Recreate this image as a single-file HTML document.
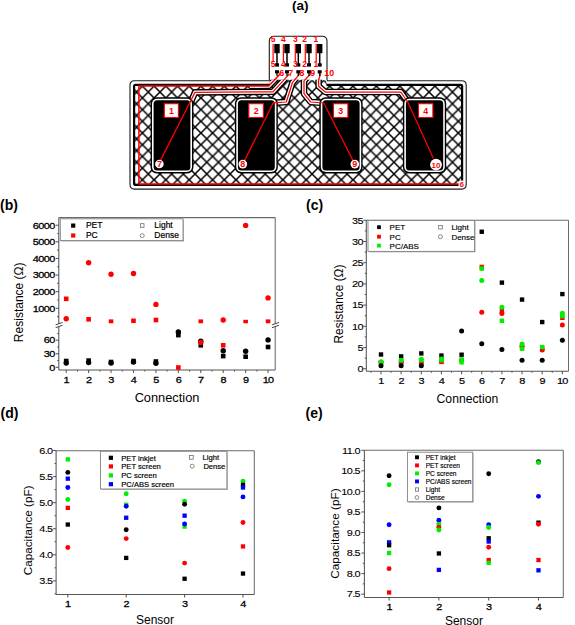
<!DOCTYPE html>
<html><head><meta charset="utf-8"><title>Figure</title>
<style>html,body{margin:0;padding:0;background:#fff;width:575px;height:625px;overflow:hidden}
svg{display:block} text{font-family:"Liberation Sans", sans-serif}</style></head>
<body><svg width="575" height="625" viewBox="0 0 575 625" font-family="Liberation Sans, sans-serif">
<rect width="575" height="625" fill="#fff"/>
<text x="300.20" y="10.40" font-size="13.5" text-anchor="middle" fill="#000" font-weight="bold" >(a)</text>
<path d="M134.5,80.8 L269.3,80.8 L269.3,41.3 Q269.3,36.3 274.3,36.3 L322.0,36.3 Q327.0,36.3 327.0,41.3 L327.0,80.8 L461.7,80.8 Q466.2,80.8 466.2,85.3 L466.2,184.6 Q466.2,189.1 461.7,189.1 L134.5,189.1 Q130.0,189.1 130.0,184.6 L130.0,85.3 Q130.0,80.8 134.5,80.8 Z" fill="#fff" stroke="#1a1a1a" stroke-width="1.1"/>
<rect x="269.90000000000003" y="79.8" width="56.499999999999986" height="3" fill="#fff"/>
<rect x="133.0" y="83.8" width="330.2" height="102.3" rx="2.5" fill="#000"/>
<defs><pattern id="hatch" patternUnits="userSpaceOnUse" width="11.7" height="11.7" x="2.0" y="4.3"><rect width="11.7" height="11.7" fill="#fff"/><path d="M-1,-1 L12.7,12.7 M-1,12.7 L12.7,-1" stroke="#000" stroke-width="1.55"/></pattern><clipPath id="board"><rect x="135.2" y="86.0" width="325.8" height="97.89999999999999"/><rect x="269.8" y="79.8" width="56.69999999999999" height="8"/></clipPath></defs>
<rect x="135.2" y="86.0" width="325.8" height="97.89999999999999" fill="url(#hatch)"/>
<rect x="269.90000000000003" y="80.3" width="56.499999999999986" height="5.7" fill="url(#hatch)"/>
<g clip-path="url(#board)">
<polyline points="280.3,73.8 268.7,85.9 250.0,86.0" fill="none" stroke="#000" stroke-width="6.6" stroke-linejoin="round"/>
<polyline points="289.4,73.8 273.0,91.8 195.0,92.4 190.0,104.0" fill="none" stroke="#000" stroke-width="6.6" stroke-linejoin="round"/>
<polyline points="299.7,73.8 292.4,82.7 286.3,102.0 273.2,102.9 265.0,117.0" fill="none" stroke="#000" stroke-width="6.6" stroke-linejoin="round"/>
<polyline points="310.7,73.8 304.0,80.9 304.0,93.7 310.7,102.0 323.8,103.0 331.0,117.0" fill="none" stroke="#000" stroke-width="6.6" stroke-linejoin="round"/>
<polyline points="320.5,73.8 318.6,80.3 318.6,86.3 325.3,92.0 400.8,92.0 407.8,102.0 413.0,113.0" fill="none" stroke="#000" stroke-width="6.6" stroke-linejoin="round"/>
<polyline points="280.3,73.8 268.7,85.9 250.0,86.0" fill="none" stroke="#fff" stroke-width="3.8" stroke-linejoin="round"/>
<polyline points="289.4,73.8 273.0,91.8 195.0,92.4 190.0,104.0" fill="none" stroke="#fff" stroke-width="3.8" stroke-linejoin="round"/>
<polyline points="299.7,73.8 292.4,82.7 286.3,102.0 273.2,102.9 265.0,117.0" fill="none" stroke="#fff" stroke-width="3.8" stroke-linejoin="round"/>
<polyline points="310.7,73.8 304.0,80.9 304.0,93.7 310.7,102.0 323.8,103.0 331.0,117.0" fill="none" stroke="#fff" stroke-width="3.8" stroke-linejoin="round"/>
<polyline points="320.5,73.8 318.6,80.3 318.6,86.3 325.3,92.0 400.8,92.0 407.8,102.0 413.0,113.0" fill="none" stroke="#fff" stroke-width="3.8" stroke-linejoin="round"/>
</g>
<rect x="150.6" y="97.3" width="42.80000000000001" height="76.10000000000001" rx="6" fill="#000"/>
<rect x="152.0" y="98.7" width="40.000000000000014" height="73.30000000000001" rx="5" fill="#fff"/>
<rect x="153.6" y="100.3" width="36.80000000000001" height="70.10000000000001" rx="3.5" fill="#000"/>
<rect x="234.9" y="97.3" width="42.900000000000006" height="76.10000000000001" rx="6" fill="#000"/>
<rect x="236.3" y="98.7" width="40.10000000000001" height="73.30000000000001" rx="5" fill="#fff"/>
<rect x="237.9" y="100.3" width="36.900000000000006" height="70.10000000000001" rx="3.5" fill="#000"/>
<rect x="319.4" y="97.3" width="43.200000000000045" height="76.10000000000001" rx="6" fill="#000"/>
<rect x="320.79999999999995" y="98.7" width="40.40000000000005" height="73.30000000000001" rx="5" fill="#fff"/>
<rect x="322.4" y="100.3" width="37.200000000000045" height="70.10000000000001" rx="3.5" fill="#000"/>
<rect x="402.9" y="97.3" width="43.30000000000001" height="76.10000000000001" rx="6" fill="#000"/>
<rect x="404.29999999999995" y="98.7" width="40.500000000000014" height="73.30000000000001" rx="5" fill="#fff"/>
<rect x="405.9" y="100.3" width="37.30000000000001" height="70.10000000000001" rx="3.5" fill="#000"/>
<polyline points="280.3,73.8 268.7,85.9 138.9,86.0 138.9,184.0 460.0,184.0" fill="none" stroke="#ff0000" stroke-width="1.5" stroke-linejoin="round"/>
<polyline points="289.4,73.8 273.0,91.8 195.0,92.4 158.6,164.1" fill="none" stroke="#ff0000" stroke-width="1.25" stroke-linejoin="round"/>
<polyline points="299.7,73.8 292.4,82.7 286.3,102.0 273.2,102.9 242.8,164.1" fill="none" stroke="#ff0000" stroke-width="1.25" stroke-linejoin="round"/>
<polyline points="310.7,73.8 304.0,80.9 304.0,93.7 310.7,102.0 323.8,103.0 354.8,164.1" fill="none" stroke="#ff0000" stroke-width="1.25" stroke-linejoin="round"/>
<polyline points="320.5,73.8 318.6,80.3 318.6,86.3 325.3,92.0 400.8,92.0 407.8,102.0 433.4,158.5" fill="none" stroke="#ff0000" stroke-width="1.25" stroke-linejoin="round"/>
<rect x="164.3" y="103.7" width="14.099999999999994" height="13.8" fill="#fff" stroke="#ff0000" stroke-width="1.1"/>
<text x="171.35" y="113.90" font-size="8.8" text-anchor="middle" fill="#ff0000" font-weight="bold" >1</text>
<rect x="248.8" y="103.7" width="14.599999999999966" height="13.8" fill="#fff" stroke="#ff0000" stroke-width="1.1"/>
<text x="256.10" y="113.90" font-size="8.8" text-anchor="middle" fill="#ff0000" font-weight="bold" >2</text>
<rect x="333.5" y="103.7" width="14.399999999999977" height="13.8" fill="#fff" stroke="#ff0000" stroke-width="1.1"/>
<text x="340.70" y="113.90" font-size="8.8" text-anchor="middle" fill="#ff0000" font-weight="bold" >3</text>
<rect x="418.5" y="103.7" width="14.399999999999977" height="13.8" fill="#fff" stroke="#ff0000" stroke-width="1.1"/>
<text x="425.70" y="113.90" font-size="8.8" text-anchor="middle" fill="#ff0000" font-weight="bold" >4</text>
<circle cx="159.4" cy="164.0" r="4.3" fill="#fff"/>
<text x="159.40" y="167.20" font-size="9" text-anchor="middle" fill="#ff0000" font-weight="bold" >7</text>
<circle cx="242.8" cy="164.1" r="4.3" fill="#fff"/>
<text x="242.80" y="167.30" font-size="9" text-anchor="middle" fill="#ff0000" font-weight="bold" >8</text>
<circle cx="354.8" cy="164.1" r="4.3" fill="#fff"/>
<text x="354.80" y="167.30" font-size="9" text-anchor="middle" fill="#ff0000" font-weight="bold" >9</text>
<circle cx="436.0" cy="164.6" r="5.9" fill="#fff"/>
<text x="436.00" y="167.80" font-size="8" text-anchor="middle" fill="#ff0000" font-weight="bold" >10</text>
<rect x="458.6" y="180.4" width="6.2" height="7.2" rx="1.5" fill="#fff"/>
<text x="461.80" y="186.60" font-size="7.5" text-anchor="middle" fill="#ff0000" font-weight="bold" >6</text>
<rect x="274.3" y="44.0" width="5.4" height="9.2" fill="#000"/>
<rect x="276.25" y="52" width="1.5" height="12" fill="#000"/>
<rect x="275.0" y="63.3" width="4.0" height="3.3" fill="#000"/>
<rect x="275.0" y="70.2" width="4.0" height="3.2" fill="#000"/>
<rect x="276.4" y="73" width="1.2" height="3" fill="#000"/>
<rect x="284.3" y="44.0" width="5.4" height="9.2" fill="#000"/>
<rect x="286.25" y="52" width="1.5" height="12" fill="#000"/>
<rect x="285.0" y="63.3" width="4.0" height="3.3" fill="#000"/>
<rect x="285.0" y="70.2" width="4.0" height="3.2" fill="#000"/>
<rect x="286.4" y="73" width="1.2" height="3" fill="#000"/>
<rect x="295.6" y="44.0" width="5.4" height="9.2" fill="#000"/>
<rect x="297.55" y="52" width="1.5" height="12" fill="#000"/>
<rect x="296.3" y="63.3" width="4.0" height="3.3" fill="#000"/>
<rect x="296.3" y="70.2" width="4.0" height="3.2" fill="#000"/>
<rect x="297.7" y="73" width="1.2" height="3" fill="#000"/>
<rect x="306.3" y="44.0" width="5.4" height="9.2" fill="#000"/>
<rect x="308.25" y="52" width="1.5" height="12" fill="#000"/>
<rect x="307.0" y="63.3" width="4.0" height="3.3" fill="#000"/>
<rect x="307.0" y="70.2" width="4.0" height="3.2" fill="#000"/>
<rect x="308.4" y="73" width="1.2" height="3" fill="#000"/>
<rect x="317.0" y="44.0" width="5.4" height="9.2" fill="#000"/>
<rect x="318.95" y="52" width="1.5" height="12" fill="#000"/>
<rect x="317.7" y="63.3" width="4.0" height="3.3" fill="#000"/>
<rect x="317.7" y="70.2" width="4.0" height="3.2" fill="#000"/>
<rect x="319.09999999999997" y="73" width="1.2" height="3" fill="#000"/>
<rect x="272.5" y="44" width="1.2" height="18" fill="#ff0000"/>
<rect x="282.79999999999995" y="44" width="1.2" height="18" fill="#ff0000"/>
<rect x="294.7" y="44" width="1.2" height="18" fill="#ff0000"/>
<rect x="304.7" y="44" width="1.2" height="18" fill="#ff0000"/>
<rect x="315.59999999999997" y="44" width="1.2" height="18" fill="#ff0000"/>
<text x="273.00" y="41.80" font-size="8.5" text-anchor="middle" fill="#ff0000" font-weight="bold" >5</text>
<text x="273.00" y="66.80" font-size="8.5" text-anchor="middle" fill="#ff0000" font-weight="bold" >5</text>
<text x="283.40" y="41.80" font-size="8.5" text-anchor="middle" fill="#ff0000" font-weight="bold" >4</text>
<text x="283.40" y="66.80" font-size="8.5" text-anchor="middle" fill="#ff0000" font-weight="bold" >4</text>
<text x="295.30" y="41.80" font-size="8.5" text-anchor="middle" fill="#ff0000" font-weight="bold" >3</text>
<text x="295.30" y="66.80" font-size="8.5" text-anchor="middle" fill="#ff0000" font-weight="bold" >3</text>
<text x="304.70" y="41.80" font-size="8.5" text-anchor="middle" fill="#ff0000" font-weight="bold" >2</text>
<text x="304.70" y="66.80" font-size="8.5" text-anchor="middle" fill="#ff0000" font-weight="bold" >2</text>
<text x="315.80" y="41.80" font-size="8.5" text-anchor="middle" fill="#ff0000" font-weight="bold" >1</text>
<text x="315.80" y="66.80" font-size="8.5" text-anchor="middle" fill="#ff0000" font-weight="bold" >1</text>
<text x="281.60" y="76.00" font-size="8.8" text-anchor="middle" fill="#ff0000" font-weight="bold" >6</text>
<text x="290.60" y="76.00" font-size="8.8" text-anchor="middle" fill="#ff0000" font-weight="bold" >7</text>
<text x="302.00" y="76.00" font-size="8.8" text-anchor="middle" fill="#ff0000" font-weight="bold" >8</text>
<text x="312.80" y="76.00" font-size="8.8" text-anchor="middle" fill="#ff0000" font-weight="bold" >9</text>
<text x="329.20" y="76.00" font-size="8.8" text-anchor="middle" fill="#ff0000" font-weight="bold" >10</text>
<text x="0.00" y="210.30" font-size="14" text-anchor="start" fill="#000" font-weight="bold" >(b)</text>
<g stroke="#555" stroke-width="1.05" fill="none">
<line x1="58.8" y1="217.6" x2="275.2" y2="217.6" stroke="#6a6a6a"/>
<line x1="275.2" y1="217.6" x2="275.2" y2="369.9" stroke="#6a6a6a"/>
<line x1="58.8" y1="217.6" x2="58.8" y2="369.9"/>
<line x1="58.8" y1="369.9" x2="275.2" y2="369.9"/>
<line x1="55.8" y1="308.30" x2="58.8" y2="308.30"/>
<line x1="55.8" y1="291.68" x2="58.8" y2="291.68"/>
<line x1="55.8" y1="275.06" x2="58.8" y2="275.06"/>
<line x1="55.8" y1="258.44" x2="58.8" y2="258.44"/>
<line x1="55.8" y1="241.82" x2="58.8" y2="241.82"/>
<line x1="55.8" y1="225.20" x2="58.8" y2="225.20"/>
<line x1="57.199999999999996" y1="316.61" x2="58.8" y2="316.61"/>
<line x1="57.199999999999996" y1="299.99" x2="58.8" y2="299.99"/>
<line x1="57.199999999999996" y1="283.37" x2="58.8" y2="283.37"/>
<line x1="57.199999999999996" y1="266.75" x2="58.8" y2="266.75"/>
<line x1="57.199999999999996" y1="250.13" x2="58.8" y2="250.13"/>
<line x1="57.199999999999996" y1="233.51" x2="58.8" y2="233.51"/>
<line x1="55.8" y1="367.30" x2="58.8" y2="367.30"/>
<line x1="55.8" y1="353.74" x2="58.8" y2="353.74"/>
<line x1="55.8" y1="340.18" x2="58.8" y2="340.18"/>
<line x1="57.199999999999996" y1="360.52" x2="58.8" y2="360.52"/>
<line x1="57.199999999999996" y1="346.96" x2="58.8" y2="346.96"/>
<line x1="57.199999999999996" y1="333.40" x2="58.8" y2="333.40"/>
<line x1="66.20" y1="369.9" x2="66.20" y2="372.9"/>
<line x1="88.63" y1="369.9" x2="88.63" y2="372.9"/>
<line x1="111.06" y1="369.9" x2="111.06" y2="372.9"/>
<line x1="133.49" y1="369.9" x2="133.49" y2="372.9"/>
<line x1="155.92" y1="369.9" x2="155.92" y2="372.9"/>
<line x1="178.35" y1="369.9" x2="178.35" y2="372.9"/>
<line x1="200.78" y1="369.9" x2="200.78" y2="372.9"/>
<line x1="223.21" y1="369.9" x2="223.21" y2="372.9"/>
<line x1="245.64" y1="369.9" x2="245.64" y2="372.9"/>
<line x1="268.07" y1="369.9" x2="268.07" y2="372.9"/>
<line x1="77.43" y1="369.9" x2="77.43" y2="371.5"/>
<line x1="99.86" y1="369.9" x2="99.86" y2="371.5"/>
<line x1="122.29" y1="369.9" x2="122.29" y2="371.5"/>
<line x1="144.72" y1="369.9" x2="144.72" y2="371.5"/>
<line x1="167.15" y1="369.9" x2="167.15" y2="371.5"/>
<line x1="189.58" y1="369.9" x2="189.58" y2="371.5"/>
<line x1="212.01" y1="369.9" x2="212.01" y2="371.5"/>
<line x1="234.44" y1="369.9" x2="234.44" y2="371.5"/>
<line x1="256.87" y1="369.9" x2="256.87" y2="371.5"/>
</g>
<path d="M55.599999999999994,324.9 L62.599999999999994,322.4 L62.599999999999994,325.2 L55.599999999999994,327.7 Z" fill="#fff"/>
<path d="M55.599999999999994,324.9 L62.599999999999994,322.4 M55.599999999999994,327.7 L62.599999999999994,325.2" stroke="#333" stroke-width="0.9"/>
<path d="M272.0,324.9 L279.0,322.4 L279.0,325.2 L272.0,327.7 Z" fill="#fff"/>
<path d="M272.0,324.9 L279.0,322.4 M272.0,327.7 L279.0,325.2" stroke="#333" stroke-width="0.9"/>
<text transform="translate(54.60,311.60) scale(1.1,1)" font-size="9.9" text-anchor="end" letter-spacing="-0.55" fill="#000" stroke="#000" stroke-width="0.3">1000</text>
<text transform="translate(54.60,294.98) scale(1.1,1)" font-size="9.9" text-anchor="end" letter-spacing="-0.55" fill="#000" stroke="#000" stroke-width="0.3">2000</text>
<text transform="translate(54.60,278.36) scale(1.1,1)" font-size="9.9" text-anchor="end" letter-spacing="-0.55" fill="#000" stroke="#000" stroke-width="0.3">3000</text>
<text transform="translate(54.60,261.74) scale(1.1,1)" font-size="9.9" text-anchor="end" letter-spacing="-0.55" fill="#000" stroke="#000" stroke-width="0.3">4000</text>
<text transform="translate(54.60,245.12) scale(1.1,1)" font-size="9.9" text-anchor="end" letter-spacing="-0.55" fill="#000" stroke="#000" stroke-width="0.3">5000</text>
<text transform="translate(54.60,228.50) scale(1.1,1)" font-size="9.9" text-anchor="end" letter-spacing="-0.55" fill="#000" stroke="#000" stroke-width="0.3">6000</text>
<text transform="translate(54.60,370.60) scale(1.1,1)" font-size="9.9" text-anchor="end" letter-spacing="-0.55" fill="#000" stroke="#000" stroke-width="0.3">0</text>
<text transform="translate(54.60,357.04) scale(1.1,1)" font-size="9.9" text-anchor="end" letter-spacing="-0.55" fill="#000" stroke="#000" stroke-width="0.3">30</text>
<text transform="translate(54.60,343.48) scale(1.1,1)" font-size="9.9" text-anchor="end" letter-spacing="-0.55" fill="#000" stroke="#000" stroke-width="0.3">60</text>
<text transform="translate(66.20,383.20) scale(1.1,1)" font-size="9.9" text-anchor="middle" letter-spacing="-0.55" fill="#000" stroke="#000" stroke-width="0.3">1</text>
<text transform="translate(88.63,383.20) scale(1.1,1)" font-size="9.9" text-anchor="middle" letter-spacing="-0.55" fill="#000" stroke="#000" stroke-width="0.3">2</text>
<text transform="translate(111.06,383.20) scale(1.1,1)" font-size="9.9" text-anchor="middle" letter-spacing="-0.55" fill="#000" stroke="#000" stroke-width="0.3">3</text>
<text transform="translate(133.49,383.20) scale(1.1,1)" font-size="9.9" text-anchor="middle" letter-spacing="-0.55" fill="#000" stroke="#000" stroke-width="0.3">4</text>
<text transform="translate(155.92,383.20) scale(1.1,1)" font-size="9.9" text-anchor="middle" letter-spacing="-0.55" fill="#000" stroke="#000" stroke-width="0.3">5</text>
<text transform="translate(178.35,383.20) scale(1.1,1)" font-size="9.9" text-anchor="middle" letter-spacing="-0.55" fill="#000" stroke="#000" stroke-width="0.3">6</text>
<text transform="translate(200.78,383.20) scale(1.1,1)" font-size="9.9" text-anchor="middle" letter-spacing="-0.55" fill="#000" stroke="#000" stroke-width="0.3">7</text>
<text transform="translate(223.21,383.20) scale(1.1,1)" font-size="9.9" text-anchor="middle" letter-spacing="-0.55" fill="#000" stroke="#000" stroke-width="0.3">8</text>
<text transform="translate(245.64,383.20) scale(1.1,1)" font-size="9.9" text-anchor="middle" letter-spacing="-0.55" fill="#000" stroke="#000" stroke-width="0.3">9</text>
<text transform="translate(268.07,383.20) scale(1.1,1)" font-size="9.9" text-anchor="middle" letter-spacing="-0.55" fill="#000" stroke="#000" stroke-width="0.3">10</text>
<text x="167.00" y="401.80" font-size="12.8" text-anchor="middle" fill="#000" font-weight="normal" >Connection</text>
<text transform="translate(22.8,302.3) rotate(-90)" font-size="12" text-anchor="middle">Resistance (Ω)</text>
<rect x="61.3" y="219.8" width="122.7" height="21.799999999999983" fill="#bbb"/>
<rect x="60.3" y="218.8" width="122.7" height="21.799999999999983" fill="#fff" stroke="#808080" stroke-width="0.9"/>
<rect x="71.10" y="223.50" width="4.2" height="4.2" fill="#000000"/>
<rect x="71.10" y="233.40" width="4.2" height="4.2" fill="#ff0000"/>
<text x="85.90" y="228.00" font-size="8.5" text-anchor="start" fill="#000" font-weight="normal" stroke="#000" stroke-width="0.2">PET</text>
<text x="85.90" y="238.00" font-size="8.5" text-anchor="start" fill="#000" font-weight="normal" stroke="#000" stroke-width="0.2">PC</text>
<rect x="140.39999999999998" y="223.7" width="3.6" height="3.6" fill="none" stroke="#666" stroke-width="0.75"/>
<circle cx="142.2" cy="235.6" r="2.0" fill="none" stroke="#666" stroke-width="0.75"/>
<text x="154.30" y="228.00" font-size="8.5" text-anchor="start" fill="#000" font-weight="normal" stroke="#000" stroke-width="0.2">Light</text>
<text x="154.30" y="238.00" font-size="8.5" text-anchor="start" fill="#000" font-weight="normal" stroke="#000" stroke-width="0.2">Dense</text>
<defs><clipPath id="bup"><rect x="55" y="210" width="230" height="113.3"/></clipPath></defs>
<g clip-path="url(#bup)">
<rect x="63.90" y="296.50" width="4.6" height="4.6" fill="#ff0000"/>
<circle cx="66.20" cy="318.70" r="2.7" fill="#ff0000"/>
<circle cx="88.63" cy="262.70" r="2.7" fill="#ff0000"/>
<rect x="86.33" y="317.00" width="4.6" height="4.6" fill="#ff0000"/>
<circle cx="111.06" cy="274.20" r="2.7" fill="#ff0000"/>
<rect x="108.76" y="319.40" width="4.6" height="4.6" fill="#ff0000"/>
<circle cx="133.49" cy="273.50" r="2.7" fill="#ff0000"/>
<rect x="131.19" y="318.50" width="4.6" height="4.6" fill="#ff0000"/>
<circle cx="155.92" cy="304.40" r="2.7" fill="#ff0000"/>
<rect x="153.62" y="317.70" width="4.6" height="4.6" fill="#ff0000"/>
<rect x="198.48" y="319.40" width="4.6" height="4.6" fill="#ff0000"/>
<circle cx="223.21" cy="320.00" r="2.7" fill="#ff0000"/>
<circle cx="245.64" cy="225.40" r="2.7" fill="#ff0000"/>
<rect x="243.34" y="319.80" width="4.6" height="4.6" fill="#ff0000"/>
<circle cx="268.07" cy="297.90" r="2.7" fill="#ff0000"/>
<rect x="265.77" y="319.40" width="4.6" height="4.6" fill="#ff0000"/>
</g>
<rect x="63.90" y="358.70" width="4.6" height="4.6" fill="#000000"/>
<circle cx="66.20" cy="363.00" r="2.7" fill="#000000"/>
<rect x="86.33" y="358.30" width="4.6" height="4.6" fill="#000000"/>
<circle cx="88.63" cy="362.60" r="2.7" fill="#000000"/>
<rect x="108.76" y="359.70" width="4.6" height="4.6" fill="#000000"/>
<circle cx="111.06" cy="363.00" r="2.7" fill="#000000"/>
<rect x="131.19" y="358.70" width="4.6" height="4.6" fill="#000000"/>
<circle cx="133.49" cy="362.00" r="2.7" fill="#000000"/>
<rect x="153.62" y="359.20" width="4.6" height="4.6" fill="#000000"/>
<circle cx="155.92" cy="363.20" r="2.7" fill="#000000"/>
<circle cx="178.35" cy="331.90" r="2.7" fill="#000000"/>
<rect x="176.05" y="332.80" width="4.6" height="4.6" fill="#000000"/>
<rect x="176.05" y="365.20" width="4.6" height="4.6" fill="#ff0000"/>
<circle cx="200.78" cy="341.20" r="2.7" fill="#000000"/>
<rect x="198.48" y="343.00" width="4.6" height="4.6" fill="#000000"/>
<circle cx="200.78" cy="342.50" r="2.7" fill="#ff0000"/>
<circle cx="223.21" cy="350.70" r="2.7" fill="#000000"/>
<rect x="220.91" y="353.80" width="4.6" height="4.6" fill="#000000"/>
<rect x="220.91" y="343.00" width="4.6" height="4.6" fill="#ff0000"/>
<circle cx="245.64" cy="351.30" r="2.7" fill="#000000"/>
<rect x="243.34" y="354.40" width="4.6" height="4.6" fill="#000000"/>
<circle cx="268.07" cy="339.90" r="2.7" fill="#000000"/>
<rect x="265.77" y="344.70" width="4.6" height="4.6" fill="#000000"/>
<text x="306.00" y="210.30" font-size="14" text-anchor="start" fill="#000" font-weight="bold" >(c)</text>
<g stroke="#555" stroke-width="1.05" fill="none">
<line x1="366.3" y1="220.3" x2="568.5" y2="220.3" stroke="#6a6a6a"/>
<line x1="568.5" y1="220.3" x2="568.5" y2="371.2" stroke="#6a6a6a"/>
<line x1="366.3" y1="220.3" x2="366.3" y2="371.2"/>
<line x1="366.3" y1="371.2" x2="568.5" y2="371.2"/>
<line x1="363.3" y1="368.70" x2="366.3" y2="368.70"/>
<line x1="363.3" y1="347.50" x2="366.3" y2="347.50"/>
<line x1="363.3" y1="326.30" x2="366.3" y2="326.30"/>
<line x1="363.3" y1="305.10" x2="366.3" y2="305.10"/>
<line x1="363.3" y1="283.90" x2="366.3" y2="283.90"/>
<line x1="363.3" y1="262.70" x2="366.3" y2="262.70"/>
<line x1="363.3" y1="241.50" x2="366.3" y2="241.50"/>
<line x1="363.3" y1="220.30" x2="366.3" y2="220.30"/>
<line x1="364.7" y1="358.10" x2="366.3" y2="358.10"/>
<line x1="364.7" y1="336.90" x2="366.3" y2="336.90"/>
<line x1="364.7" y1="315.70" x2="366.3" y2="315.70"/>
<line x1="364.7" y1="294.50" x2="366.3" y2="294.50"/>
<line x1="364.7" y1="273.30" x2="366.3" y2="273.30"/>
<line x1="364.7" y1="252.10" x2="366.3" y2="252.10"/>
<line x1="364.7" y1="230.90" x2="366.3" y2="230.90"/>
<line x1="381.00" y1="371.2" x2="381.00" y2="374.2"/>
<line x1="401.15" y1="371.2" x2="401.15" y2="374.2"/>
<line x1="421.30" y1="371.2" x2="421.30" y2="374.2"/>
<line x1="441.45" y1="371.2" x2="441.45" y2="374.2"/>
<line x1="461.60" y1="371.2" x2="461.60" y2="374.2"/>
<line x1="481.75" y1="371.2" x2="481.75" y2="374.2"/>
<line x1="501.90" y1="371.2" x2="501.90" y2="374.2"/>
<line x1="522.05" y1="371.2" x2="522.05" y2="374.2"/>
<line x1="542.20" y1="371.2" x2="542.20" y2="374.2"/>
<line x1="562.35" y1="371.2" x2="562.35" y2="374.2"/>
<line x1="370.93" y1="371.2" x2="370.93" y2="372.8"/>
<line x1="391.08" y1="371.2" x2="391.08" y2="372.8"/>
<line x1="411.23" y1="371.2" x2="411.23" y2="372.8"/>
<line x1="431.38" y1="371.2" x2="431.38" y2="372.8"/>
<line x1="451.53" y1="371.2" x2="451.53" y2="372.8"/>
<line x1="471.68" y1="371.2" x2="471.68" y2="372.8"/>
<line x1="491.83" y1="371.2" x2="491.83" y2="372.8"/>
<line x1="511.98" y1="371.2" x2="511.98" y2="372.8"/>
<line x1="532.13" y1="371.2" x2="532.13" y2="372.8"/>
<line x1="552.28" y1="371.2" x2="552.28" y2="372.8"/>
</g>
<text transform="translate(363.00,372.00) scale(1.1,1)" font-size="9.9" text-anchor="end" letter-spacing="-0.55" fill="#000" stroke="#000" stroke-width="0.12">0</text>
<text transform="translate(363.00,350.80) scale(1.1,1)" font-size="9.9" text-anchor="end" letter-spacing="-0.55" fill="#000" stroke="#000" stroke-width="0.12">5</text>
<text transform="translate(363.00,329.60) scale(1.1,1)" font-size="9.9" text-anchor="end" letter-spacing="-0.55" fill="#000" stroke="#000" stroke-width="0.12">10</text>
<text transform="translate(363.00,308.40) scale(1.1,1)" font-size="9.9" text-anchor="end" letter-spacing="-0.55" fill="#000" stroke="#000" stroke-width="0.12">15</text>
<text transform="translate(363.00,287.20) scale(1.1,1)" font-size="9.9" text-anchor="end" letter-spacing="-0.55" fill="#000" stroke="#000" stroke-width="0.12">20</text>
<text transform="translate(363.00,266.00) scale(1.1,1)" font-size="9.9" text-anchor="end" letter-spacing="-0.55" fill="#000" stroke="#000" stroke-width="0.12">25</text>
<text transform="translate(363.00,244.80) scale(1.1,1)" font-size="9.9" text-anchor="end" letter-spacing="-0.55" fill="#000" stroke="#000" stroke-width="0.12">30</text>
<text transform="translate(363.00,223.60) scale(1.1,1)" font-size="9.9" text-anchor="end" letter-spacing="-0.55" fill="#000" stroke="#000" stroke-width="0.12">35</text>
<text transform="translate(381.00,384.20) scale(1.1,1)" font-size="9.9" text-anchor="middle" letter-spacing="-0.55" fill="#000" stroke="#000" stroke-width="0.2">1</text>
<text transform="translate(401.15,384.20) scale(1.1,1)" font-size="9.9" text-anchor="middle" letter-spacing="-0.55" fill="#000" stroke="#000" stroke-width="0.2">2</text>
<text transform="translate(421.30,384.20) scale(1.1,1)" font-size="9.9" text-anchor="middle" letter-spacing="-0.55" fill="#000" stroke="#000" stroke-width="0.2">3</text>
<text transform="translate(441.45,384.20) scale(1.1,1)" font-size="9.9" text-anchor="middle" letter-spacing="-0.55" fill="#000" stroke="#000" stroke-width="0.2">4</text>
<text transform="translate(461.60,384.20) scale(1.1,1)" font-size="9.9" text-anchor="middle" letter-spacing="-0.55" fill="#000" stroke="#000" stroke-width="0.2">5</text>
<text transform="translate(481.75,384.20) scale(1.1,1)" font-size="9.9" text-anchor="middle" letter-spacing="-0.55" fill="#000" stroke="#000" stroke-width="0.2">6</text>
<text transform="translate(501.90,384.20) scale(1.1,1)" font-size="9.9" text-anchor="middle" letter-spacing="-0.55" fill="#000" stroke="#000" stroke-width="0.2">7</text>
<text transform="translate(522.05,384.20) scale(1.1,1)" font-size="9.9" text-anchor="middle" letter-spacing="-0.55" fill="#000" stroke="#000" stroke-width="0.2">8</text>
<text transform="translate(542.20,384.20) scale(1.1,1)" font-size="9.9" text-anchor="middle" letter-spacing="-0.55" fill="#000" stroke="#000" stroke-width="0.2">9</text>
<text transform="translate(562.35,384.20) scale(1.1,1)" font-size="9.9" text-anchor="middle" letter-spacing="-0.55" fill="#000" stroke="#000" stroke-width="0.2">10</text>
<text x="467.40" y="403.00" font-size="12.2" text-anchor="middle" fill="#000" font-weight="normal" >Connection</text>
<text transform="translate(343.3,304) rotate(-90)" font-size="11.9" text-anchor="middle">Resistance (Ω)</text>
<rect x="369.0" y="221.5" width="106.60000000000002" height="30.900000000000006" fill="#bbb"/>
<rect x="368.0" y="220.5" width="106.60000000000002" height="30.900000000000006" fill="#fff" stroke="#808080" stroke-width="0.9"/>
<rect x="377.10" y="225.30" width="3.8" height="3.8" fill="#000000"/>
<rect x="377.10" y="234.80" width="3.8" height="3.8" fill="#ff0000"/>
<rect x="377.10" y="243.70" width="3.8" height="3.8" fill="#00ee00"/>
<text x="389.60" y="230.10" font-size="8" text-anchor="start" fill="#000" font-weight="normal" stroke="#000" stroke-width="0.15">PET</text>
<text x="389.60" y="239.60" font-size="8" text-anchor="start" fill="#000" font-weight="normal" stroke="#000" stroke-width="0.15">PC</text>
<text x="389.60" y="248.60" font-size="8" text-anchor="start" fill="#000" font-weight="normal" stroke="#000" stroke-width="0.15">PC/ABS</text>
<rect x="438.7" y="225.39999999999998" width="3.6" height="3.6" fill="none" stroke="#666" stroke-width="0.75"/>
<circle cx="440.5" cy="236.7" r="2.0" fill="none" stroke="#666" stroke-width="0.75"/>
<text x="451.40" y="230.10" font-size="8" text-anchor="start" fill="#000" font-weight="normal" stroke="#000" stroke-width="0.15">Light</text>
<text x="451.40" y="239.60" font-size="8" text-anchor="start" fill="#000" font-weight="normal" stroke="#000" stroke-width="0.15">Dense</text>
<rect x="378.80" y="352.30" width="4.4" height="4.4" fill="#000000"/>
<rect x="378.80" y="360.14" width="4.4" height="4.4" fill="#ff0000"/>
<rect x="378.80" y="360.56" width="4.4" height="4.4" fill="#00ee00"/>
<circle cx="381.00" cy="362.34" r="2.5" fill="#ff0000"/>
<circle cx="381.00" cy="361.70" r="2.5" fill="#00ee00"/>
<circle cx="381.00" cy="365.73" r="2.5" fill="#000000"/>
<rect x="398.95" y="354.20" width="4.4" height="4.4" fill="#000000"/>
<rect x="398.95" y="360.14" width="4.4" height="4.4" fill="#ff0000"/>
<rect x="398.95" y="358.44" width="4.4" height="4.4" fill="#00ee00"/>
<circle cx="401.15" cy="362.76" r="2.5" fill="#ff0000"/>
<circle cx="401.15" cy="360.22" r="2.5" fill="#00ee00"/>
<circle cx="401.15" cy="365.73" r="2.5" fill="#000000"/>
<rect x="419.10" y="351.24" width="4.4" height="4.4" fill="#000000"/>
<rect x="419.10" y="361.41" width="4.4" height="4.4" fill="#ff0000"/>
<circle cx="421.30" cy="362.76" r="2.5" fill="#ff0000"/>
<rect x="419.10" y="358.02" width="4.4" height="4.4" fill="#00ee00"/>
<circle cx="421.30" cy="359.37" r="2.5" fill="#00ee00"/>
<circle cx="421.30" cy="365.73" r="2.5" fill="#000000"/>
<rect x="439.25" y="353.36" width="4.4" height="4.4" fill="#000000"/>
<rect x="439.25" y="359.72" width="4.4" height="4.4" fill="#ff0000"/>
<circle cx="441.45" cy="361.49" r="2.5" fill="#ff0000"/>
<rect x="439.25" y="358.02" width="4.4" height="4.4" fill="#00ee00"/>
<circle cx="441.45" cy="358.95" r="2.5" fill="#00ee00"/>
<circle cx="461.60" cy="330.96" r="2.5" fill="#000000"/>
<rect x="459.40" y="352.51" width="4.4" height="4.4" fill="#000000"/>
<circle cx="461.60" cy="360.22" r="2.5" fill="#ff0000"/>
<rect x="459.40" y="360.14" width="4.4" height="4.4" fill="#00ee00"/>
<rect x="459.40" y="357.17" width="4.4" height="4.4" fill="#00ee00"/>
<rect x="479.55" y="229.55" width="4.4" height="4.4" fill="#000000"/>
<rect x="479.55" y="264.74" width="4.4" height="4.4" fill="#ff0000"/>
<rect x="479.55" y="266.44" width="4.4" height="4.4" fill="#00ee00"/>
<circle cx="481.75" cy="280.51" r="2.5" fill="#00ee00"/>
<circle cx="481.75" cy="312.31" r="2.5" fill="#ff0000"/>
<circle cx="481.75" cy="343.68" r="2.5" fill="#000000"/>
<rect x="499.70" y="280.43" width="4.4" height="4.4" fill="#000000"/>
<circle cx="501.90" cy="313.58" r="2.5" fill="#ff0000"/>
<rect x="499.70" y="308.84" width="4.4" height="4.4" fill="#ff0000"/>
<circle cx="501.90" cy="307.22" r="2.5" fill="#00ee00"/>
<rect x="499.70" y="318.59" width="4.4" height="4.4" fill="#00ee00"/>
<circle cx="501.90" cy="349.62" r="2.5" fill="#000000"/>
<rect x="519.85" y="297.39" width="4.4" height="4.4" fill="#000000"/>
<rect x="519.85" y="345.30" width="4.4" height="4.4" fill="#ff0000"/>
<circle cx="522.05" cy="346.23" r="2.5" fill="#ff0000"/>
<rect x="519.85" y="346.57" width="4.4" height="4.4" fill="#00ee00"/>
<circle cx="522.05" cy="344.11" r="2.5" fill="#00ee00"/>
<circle cx="522.05" cy="360.22" r="2.5" fill="#000000"/>
<rect x="540.00" y="319.86" width="4.4" height="4.4" fill="#000000"/>
<circle cx="542.20" cy="350.04" r="2.5" fill="#ff0000"/>
<rect x="540.00" y="346.15" width="4.4" height="4.4" fill="#ff0000"/>
<rect x="540.00" y="344.88" width="4.4" height="4.4" fill="#00ee00"/>
<circle cx="542.20" cy="360.22" r="2.5" fill="#000000"/>
<rect x="560.15" y="291.88" width="4.4" height="4.4" fill="#000000"/>
<rect x="560.15" y="315.62" width="4.4" height="4.4" fill="#ff0000"/>
<rect x="560.15" y="313.92" width="4.4" height="4.4" fill="#00ee00"/>
<circle cx="562.35" cy="313.16" r="2.5" fill="#00ee00"/>
<circle cx="562.35" cy="325.03" r="2.5" fill="#ff0000"/>
<circle cx="562.35" cy="340.29" r="2.5" fill="#000000"/>
<text x="0.50" y="418.00" font-size="14" text-anchor="start" fill="#000" font-weight="bold" >(d)</text>
<g stroke="#555" stroke-width="1.05" fill="none">
<line x1="56.1" y1="450.8" x2="254.3" y2="450.8" stroke="#6a6a6a"/>
<line x1="254.3" y1="450.8" x2="254.3" y2="594.4" stroke="#6a6a6a"/>
<line x1="56.1" y1="450.8" x2="56.1" y2="594.4"/>
<line x1="56.1" y1="594.4" x2="254.3" y2="594.4"/>
<line x1="53.1" y1="580.85" x2="56.1" y2="580.85"/>
<line x1="54.5" y1="593.88" x2="56.1" y2="593.88"/>
<line x1="53.1" y1="554.78" x2="56.1" y2="554.78"/>
<line x1="54.5" y1="567.81" x2="56.1" y2="567.81"/>
<line x1="53.1" y1="528.71" x2="56.1" y2="528.71"/>
<line x1="54.5" y1="541.74" x2="56.1" y2="541.74"/>
<line x1="53.1" y1="502.64" x2="56.1" y2="502.64"/>
<line x1="54.5" y1="515.67" x2="56.1" y2="515.67"/>
<line x1="53.1" y1="476.57" x2="56.1" y2="476.57"/>
<line x1="54.5" y1="489.60" x2="56.1" y2="489.60"/>
<line x1="53.1" y1="450.50" x2="56.1" y2="450.50"/>
<line x1="54.5" y1="463.53" x2="56.1" y2="463.53"/>
<line x1="67.80" y1="594.4" x2="67.80" y2="597.4"/>
<line x1="126.20" y1="594.4" x2="126.20" y2="597.4"/>
<line x1="184.60" y1="594.4" x2="184.60" y2="597.4"/>
<line x1="243.00" y1="594.4" x2="243.00" y2="597.4"/>
</g>
<text transform="translate(52.50,584.15) scale(1.1,1)" font-size="9.9" text-anchor="end" letter-spacing="-0.55" fill="#000" stroke="#000" stroke-width="0.1">3.5</text>
<text transform="translate(52.50,558.08) scale(1.1,1)" font-size="9.9" text-anchor="end" letter-spacing="-0.55" fill="#000" stroke="#000" stroke-width="0.1">4.0</text>
<text transform="translate(52.50,532.01) scale(1.1,1)" font-size="9.9" text-anchor="end" letter-spacing="-0.55" fill="#000" stroke="#000" stroke-width="0.1">4.5</text>
<text transform="translate(52.50,505.94) scale(1.1,1)" font-size="9.9" text-anchor="end" letter-spacing="-0.55" fill="#000" stroke="#000" stroke-width="0.1">5.0</text>
<text transform="translate(52.50,479.87) scale(1.1,1)" font-size="9.9" text-anchor="end" letter-spacing="-0.55" fill="#000" stroke="#000" stroke-width="0.1">5.5</text>
<text transform="translate(52.50,453.80) scale(1.1,1)" font-size="9.9" text-anchor="end" letter-spacing="-0.55" fill="#000" stroke="#000" stroke-width="0.1">6.0</text>
<text transform="translate(67.80,607.20) scale(1.1,1)" font-size="9.9" text-anchor="middle" letter-spacing="-0.55" fill="#000" stroke="#000" stroke-width="0.3">1</text>
<text transform="translate(126.20,607.20) scale(1.1,1)" font-size="9.9" text-anchor="middle" letter-spacing="-0.55" fill="#000" stroke="#000" stroke-width="0.3">2</text>
<text transform="translate(184.60,607.20) scale(1.1,1)" font-size="9.9" text-anchor="middle" letter-spacing="-0.55" fill="#000" stroke="#000" stroke-width="0.3">3</text>
<text transform="translate(243.00,607.20) scale(1.1,1)" font-size="9.9" text-anchor="middle" letter-spacing="-0.55" fill="#000" stroke="#000" stroke-width="0.3">4</text>
<text x="155.00" y="624.00" font-size="12" text-anchor="middle" fill="#000" font-weight="normal" >Sensor</text>
<text transform="translate(32.3,530.4) rotate(-90)" font-size="11.7" text-anchor="middle">Capacitance (pF)</text>
<rect x="101.4" y="452.3" width="126.5" height="37.69999999999999" fill="#bbb"/>
<rect x="100.4" y="451.3" width="126.5" height="37.69999999999999" fill="#fff" stroke="#808080" stroke-width="0.9"/>
<rect x="108.80" y="455.70" width="4.2" height="4.2" fill="#000000"/>
<text x="121.30" y="460.50" font-size="7.6" text-anchor="start" fill="#000" font-weight="normal" stroke="#000" stroke-width="0.18">PET inkjet</text>
<rect x="108.80" y="464.30" width="4.2" height="4.2" fill="#ff0000"/>
<text x="121.30" y="469.10" font-size="7.6" text-anchor="start" fill="#000" font-weight="normal" stroke="#000" stroke-width="0.18">PET screen</text>
<rect x="108.80" y="473.30" width="4.2" height="4.2" fill="#00ee00"/>
<text x="121.30" y="478.10" font-size="7.6" text-anchor="start" fill="#000" font-weight="normal" stroke="#000" stroke-width="0.18">PC screen</text>
<rect x="108.80" y="482.10" width="4.2" height="4.2" fill="#0000ff"/>
<text x="121.30" y="486.90" font-size="7.6" text-anchor="start" fill="#000" font-weight="normal" stroke="#000" stroke-width="0.18">PC/ABS screen</text>
<rect x="189.6" y="455.59999999999997" width="3.6" height="3.6" fill="none" stroke="#666" stroke-width="0.75"/>
<circle cx="192.2" cy="466.2" r="2.0" fill="none" stroke="#666" stroke-width="0.75"/>
<text x="202.60" y="460.10" font-size="7.6" text-anchor="start" fill="#000" font-weight="normal" stroke="#000" stroke-width="0.18">Light</text>
<text x="203.40" y="469.00" font-size="7.6" text-anchor="start" fill="#000" font-weight="normal" stroke="#000" stroke-width="0.18">Dense</text>
<rect x="65.65" y="457.21" width="4.3" height="4.3" fill="#00ee00"/>
<circle cx="67.80" cy="472.40" r="2.45" fill="#000000"/>
<rect x="65.65" y="476.51" width="4.3" height="4.3" fill="#0000ff"/>
<circle cx="67.80" cy="487.52" r="2.45" fill="#0000ff"/>
<circle cx="67.80" cy="499.51" r="2.45" fill="#00ee00"/>
<rect x="65.65" y="505.70" width="4.3" height="4.3" fill="#ff0000"/>
<rect x="65.65" y="522.39" width="4.3" height="4.3" fill="#000000"/>
<circle cx="67.80" cy="547.48" r="2.45" fill="#ff0000"/>
<circle cx="126.20" cy="493.78" r="2.45" fill="#00ee00"/>
<rect x="124.05" y="502.58" width="4.3" height="4.3" fill="#00ee00"/>
<circle cx="126.20" cy="506.29" r="2.45" fill="#0000ff"/>
<rect x="124.05" y="515.61" width="4.3" height="4.3" fill="#0000ff"/>
<circle cx="126.20" cy="529.75" r="2.45" fill="#000000"/>
<circle cx="126.20" cy="538.62" r="2.45" fill="#ff0000"/>
<rect x="124.05" y="555.76" width="4.3" height="4.3" fill="#000000"/>
<circle cx="184.60" cy="501.08" r="2.45" fill="#00ee00"/>
<circle cx="184.60" cy="504.20" r="2.45" fill="#000000"/>
<rect x="182.45" y="513.52" width="4.3" height="4.3" fill="#0000ff"/>
<rect x="182.45" y="524.47" width="4.3" height="4.3" fill="#00ee00"/>
<circle cx="184.60" cy="524.02" r="2.45" fill="#0000ff"/>
<circle cx="184.60" cy="563.12" r="2.45" fill="#ff0000"/>
<rect x="182.45" y="576.61" width="4.3" height="4.3" fill="#000000"/>
<circle cx="243.00" cy="481.26" r="2.45" fill="#00ee00"/>
<rect x="240.85" y="482.76" width="4.3" height="4.3" fill="#000000"/>
<rect x="240.85" y="485.37" width="4.3" height="4.3" fill="#0000ff"/>
<circle cx="243.00" cy="496.90" r="2.45" fill="#0000ff"/>
<circle cx="243.00" cy="522.45" r="2.45" fill="#ff0000"/>
<rect x="240.85" y="544.29" width="4.3" height="4.3" fill="#ff0000"/>
<rect x="240.85" y="571.40" width="4.3" height="4.3" fill="#000000"/>
<text x="305.50" y="418.00" font-size="14" text-anchor="start" fill="#000" font-weight="bold" >(e)</text>
<g stroke="#555" stroke-width="1.05" fill="none">
<line x1="364.4" y1="450.3" x2="563.3" y2="450.3" stroke="#6a6a6a"/>
<line x1="563.3" y1="450.3" x2="563.3" y2="597.5" stroke="#6a6a6a"/>
<line x1="364.4" y1="450.3" x2="364.4" y2="597.5"/>
<line x1="364.4" y1="597.5" x2="563.3" y2="597.5"/>
<line x1="361.4" y1="594.15" x2="364.4" y2="594.15"/>
<line x1="362.79999999999995" y1="583.88" x2="364.4" y2="583.88"/>
<line x1="361.4" y1="573.60" x2="364.4" y2="573.60"/>
<line x1="362.79999999999995" y1="563.33" x2="364.4" y2="563.33"/>
<line x1="361.4" y1="553.05" x2="364.4" y2="553.05"/>
<line x1="362.79999999999995" y1="542.78" x2="364.4" y2="542.78"/>
<line x1="361.4" y1="532.50" x2="364.4" y2="532.50"/>
<line x1="362.79999999999995" y1="522.23" x2="364.4" y2="522.23"/>
<line x1="361.4" y1="511.95" x2="364.4" y2="511.95"/>
<line x1="362.79999999999995" y1="501.68" x2="364.4" y2="501.68"/>
<line x1="361.4" y1="491.40" x2="364.4" y2="491.40"/>
<line x1="362.79999999999995" y1="481.13" x2="364.4" y2="481.13"/>
<line x1="361.4" y1="470.85" x2="364.4" y2="470.85"/>
<line x1="362.79999999999995" y1="460.58" x2="364.4" y2="460.58"/>
<line x1="361.4" y1="450.30" x2="364.4" y2="450.30"/>
<line x1="389.10" y1="597.5" x2="389.10" y2="600.5"/>
<line x1="438.90" y1="597.5" x2="438.90" y2="600.5"/>
<line x1="488.70" y1="597.5" x2="488.70" y2="600.5"/>
<line x1="538.50" y1="597.5" x2="538.50" y2="600.5"/>
</g>
<text transform="translate(360.00,597.45) scale(1.1,1)" font-size="9.9" text-anchor="end" letter-spacing="-0.55" fill="#000" stroke="#000" stroke-width="0.1">7.5</text>
<text transform="translate(360.00,576.90) scale(1.1,1)" font-size="9.9" text-anchor="end" letter-spacing="-0.55" fill="#000" stroke="#000" stroke-width="0.1">8.0</text>
<text transform="translate(360.00,556.35) scale(1.1,1)" font-size="9.9" text-anchor="end" letter-spacing="-0.55" fill="#000" stroke="#000" stroke-width="0.1">8.5</text>
<text transform="translate(360.00,535.80) scale(1.1,1)" font-size="9.9" text-anchor="end" letter-spacing="-0.55" fill="#000" stroke="#000" stroke-width="0.1">9.0</text>
<text transform="translate(360.00,515.25) scale(1.1,1)" font-size="9.9" text-anchor="end" letter-spacing="-0.55" fill="#000" stroke="#000" stroke-width="0.1">9.5</text>
<text transform="translate(360.00,494.70) scale(1.1,1)" font-size="9.9" text-anchor="end" letter-spacing="-0.55" fill="#000" stroke="#000" stroke-width="0.1">10.0</text>
<text transform="translate(360.00,474.15) scale(1.1,1)" font-size="9.9" text-anchor="end" letter-spacing="-0.55" fill="#000" stroke="#000" stroke-width="0.1">10.5</text>
<text transform="translate(360.00,453.60) scale(1.1,1)" font-size="9.9" text-anchor="end" letter-spacing="-0.55" fill="#000" stroke="#000" stroke-width="0.1">11.0</text>
<text transform="translate(389.10,609.80) scale(1.1,1)" font-size="9.9" text-anchor="middle" letter-spacing="-0.55" fill="#000" stroke="#000" stroke-width="0.3">1</text>
<text transform="translate(438.90,609.80) scale(1.1,1)" font-size="9.9" text-anchor="middle" letter-spacing="-0.55" fill="#000" stroke="#000" stroke-width="0.3">2</text>
<text transform="translate(488.70,609.80) scale(1.1,1)" font-size="9.9" text-anchor="middle" letter-spacing="-0.55" fill="#000" stroke="#000" stroke-width="0.3">3</text>
<text transform="translate(538.50,609.80) scale(1.1,1)" font-size="9.9" text-anchor="middle" letter-spacing="-0.55" fill="#000" stroke="#000" stroke-width="0.3">4</text>
<text x="463.90" y="624.50" font-size="12" text-anchor="middle" fill="#000" font-weight="normal" >Sensor</text>
<text transform="translate(338.6,533.6) rotate(-90)" font-size="11.8" text-anchor="middle">Capacitance (pF)</text>
<rect x="408.4" y="453.2" width="65.30000000000001" height="49.5" fill="#bbb"/>
<rect x="407.4" y="452.2" width="65.30000000000001" height="49.5" fill="#fff" stroke="#808080" stroke-width="0.9"/>
<rect x="415.05" y="455.35" width="3.9" height="3.9" fill="#000000"/>
<text x="425.70" y="459.70" font-size="6.6" text-anchor="start" fill="#000" font-weight="normal" stroke="#000" stroke-width="0.15">PET inkjet</text>
<rect x="415.05" y="463.45" width="3.9" height="3.9" fill="#ff0000"/>
<text x="425.70" y="467.80" font-size="6.6" text-anchor="start" fill="#000" font-weight="normal" stroke="#000" stroke-width="0.15">PET screen</text>
<rect x="415.05" y="471.45" width="3.9" height="3.9" fill="#00ee00"/>
<text x="425.70" y="475.80" font-size="6.6" text-anchor="start" fill="#000" font-weight="normal" stroke="#000" stroke-width="0.15">PC screen</text>
<rect x="415.05" y="479.45" width="3.9" height="3.9" fill="#0000ff"/>
<text x="425.70" y="483.80" font-size="6.6" text-anchor="start" fill="#000" font-weight="normal" stroke="#000" stroke-width="0.15">PC/ABS screen</text>
<rect x="415.35" y="487.85" width="3.3" height="3.3" fill="none" stroke="#666" stroke-width="0.75"/>
<circle cx="417.0" cy="497.5" r="1.9" fill="none" stroke="#666" stroke-width="0.75"/>
<text x="425.70" y="491.90" font-size="6.6" text-anchor="start" fill="#000" font-weight="normal" stroke="#000" stroke-width="0.15">Light</text>
<text x="425.70" y="499.90" font-size="6.6" text-anchor="start" fill="#000" font-weight="normal" stroke="#000" stroke-width="0.15">Dense</text>
<circle cx="389.10" cy="475.78" r="2.45" fill="#000000"/>
<circle cx="389.10" cy="484.82" r="2.45" fill="#00ee00"/>
<circle cx="389.10" cy="524.69" r="2.45" fill="#0000ff"/>
<rect x="386.95" y="540.21" width="4.3" height="4.3" fill="#0000ff"/>
<rect x="386.95" y="543.09" width="4.3" height="4.3" fill="#000000"/>
<rect x="386.95" y="550.90" width="4.3" height="4.3" fill="#00ee00"/>
<circle cx="389.10" cy="568.67" r="2.45" fill="#ff0000"/>
<rect x="386.95" y="590.36" width="4.3" height="4.3" fill="#ff0000"/>
<circle cx="438.90" cy="507.84" r="2.45" fill="#000000"/>
<circle cx="438.90" cy="520.17" r="2.45" fill="#0000ff"/>
<rect x="436.75" y="522.95" width="4.3" height="4.3" fill="#ff0000"/>
<rect x="436.75" y="522.13" width="4.3" height="4.3" fill="#00ee00"/>
<circle cx="438.90" cy="527.57" r="2.45" fill="#ff0000"/>
<circle cx="438.90" cy="530.03" r="2.45" fill="#00ee00"/>
<rect x="436.75" y="551.31" width="4.3" height="4.3" fill="#000000"/>
<rect x="436.75" y="567.75" width="4.3" height="4.3" fill="#0000ff"/>
<circle cx="488.70" cy="473.73" r="2.45" fill="#000000"/>
<circle cx="488.70" cy="524.69" r="2.45" fill="#0000ff"/>
<circle cx="488.70" cy="527.57" r="2.45" fill="#00ee00"/>
<rect x="486.55" y="536.10" width="4.3" height="4.3" fill="#000000"/>
<rect x="486.55" y="539.39" width="4.3" height="4.3" fill="#0000ff"/>
<circle cx="488.70" cy="547.30" r="2.45" fill="#ff0000"/>
<rect x="486.55" y="557.89" width="4.3" height="4.3" fill="#ff0000"/>
<rect x="486.55" y="560.76" width="4.3" height="4.3" fill="#00ee00"/>
<circle cx="538.50" cy="461.81" r="2.45" fill="#000000"/>
<circle cx="538.50" cy="462.63" r="2.45" fill="#00ee00"/>
<circle cx="538.50" cy="496.33" r="2.45" fill="#0000ff"/>
<rect x="536.35" y="520.49" width="4.3" height="4.3" fill="#000000"/>
<circle cx="538.50" cy="524.28" r="2.45" fill="#ff0000"/>
<rect x="536.35" y="557.89" width="4.3" height="4.3" fill="#ff0000"/>
<rect x="536.35" y="568.16" width="4.3" height="4.3" fill="#0000ff"/>
</svg></body></html>
